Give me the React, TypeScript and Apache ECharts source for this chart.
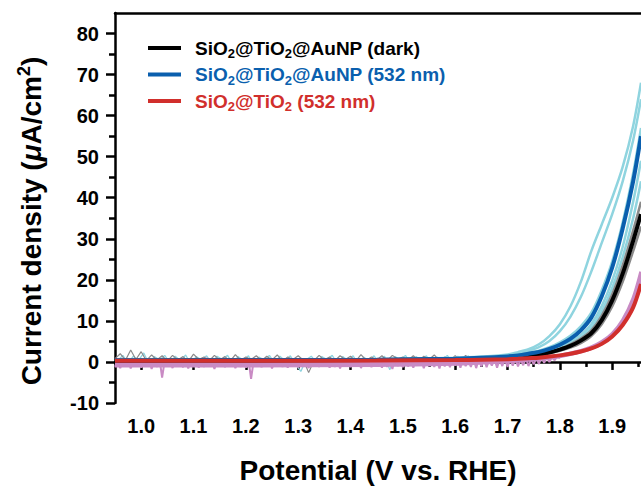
import React, { useEffect, useRef } from "react";
import * as echarts from "echarts";

const FONT = "'Liberation Sans', Arial, Helvetica, sans-serif";

// x grid of the smooth curves (V vs. RHE)
const xsRise = [0.95, 1.2, 1.45, 1.6, 1.65, 1.7, 1.72, 1.74, 1.76, 1.78, 1.8, 1.82, 1.84, 1.86, 1.88, 1.9, 1.92, 1.94, 1.955];

// mean curves (µA/cm²)
const darkMean = [0.3, 0.35, 0.45, 0.65, 0.8, 1.05, 1.25, 1.5, 1.8, 2.3, 3.0, 3.9, 5.2, 7.0, 10.2, 15.0, 21.5, 29.5, 36];
const lightMean = [0.4, 0.45, 0.55, 0.8, 1.0, 1.35, 1.6, 2.0, 2.45, 3.2, 4.2, 5.6, 7.7, 10.8, 16.0, 23.0, 32.5, 44.0, 55];
const noAuMean = [0.3, 0.3, 0.35, 0.45, 0.55, 0.65, 0.75, 0.9, 1.05, 1.3, 1.6, 2.0, 2.55, 3.3, 4.4, 6.2, 9.0, 13.3, 19];

// replicate curves
const cyanA = [0.5, 0.55, 0.65, 1.0, 1.3, 1.8, 2.4, 3.1, 4.3, 6.3, 9.2, 13.5, 19.5, 27, 33.5, 40, 47.5, 57.5, 68];
const cyanB = [0.5, 0.55, 0.6, 0.9, 1.15, 1.6, 2.0, 2.7, 3.6, 5.1, 7.5, 11, 15.8, 22, 29, 36, 44, 54, 64];
const cyanC = [0.45, 0.5, 0.6, 0.85, 1.05, 1.45, 1.75, 2.2, 2.75, 3.6, 4.8, 6.4, 8.7, 12.0, 17.5, 24.5, 34, 46, 57];
const cyanD = [0.4, 0.45, 0.55, 0.75, 0.95, 1.25, 1.45, 1.75, 2.2, 2.8, 3.7, 4.9, 6.6, 9.2, 13.6, 19.8, 28, 39, 49];
const cyanE = [0.4, 0.45, 0.5, 0.7, 0.9, 1.15, 1.35, 1.65, 2.0, 2.6, 3.4, 4.5, 6.0, 8.3, 12.3, 18, 25.5, 35, 44];
const grayA = [0.35, 0.4, 0.5, 0.7, 0.9, 1.1, 1.3, 1.6, 1.95, 2.5, 3.2, 4.3, 5.7, 7.7, 11.3, 16.5, 23.5, 32, 39];
const grayB = [0.3, 0.35, 0.4, 0.6, 0.8, 1.0, 1.15, 1.4, 1.65, 2.1, 2.7, 3.5, 4.6, 6.3, 9.2, 13.5, 19.5, 27, 33];
const pinkA = [-0.2, -0.2, -0.1, 0.1, 0.3, 0.5, 0.6, 0.75, 0.95, 1.2, 1.6, 2.1, 2.75, 3.6, 4.9, 6.9, 10.2, 15.5, 22];
const pinkB = [-0.9, -0.9, -0.8, -0.5, -0.2, 0.1, 0.25, 0.45, 0.7, 0.95, 1.35, 1.85, 2.5, 3.3, 4.5, 6.4, 9.5, 14.3, 20.5];

// noisy baseline readings (start, step, values)
const pinkNoiseStart = 0.95;
const pinkNoiseStep = 0.005;
const pinkNoise = [
  -1.2, 0.6, -1.5, 0.3, -0.9, 0.8, -1.6, 0.2, -1.1, 0.9,
  -1.4, 0.5, -1.0, 0.7, -1.7, 0.4, -1.2, 0.8, -3.8, 0.3,
  -1.1, 0.6, -1.5, 0.9, -0.8, 0.4, -1.3, 0.7, -1.6, 0.5,
  -1.0, 0.8, -1.4, 0.3, -1.2, 1.0, -0.9, 0.6, -1.7, 0.4,
  -1.1, 0.9, -1.3, 0.5, -1.0, 0.7, -1.5, 0.2, -1.2, 0.8,
  -1.4, 0.6, -4.1, 0.4, -1.1, 0.9, -1.3, 0.5, -0.9, 0.7,
  -1.6, 0.3, -1.0, 0.8, -1.2, 0.6, -1.4, 0.9, -0.8, 0.4,
  -1.3, 0.7, -1.1, 0.5, -1.5, 0.8, -0.9, 0.6, -1.2, 0.3,
  -1.0, 0.9, -1.4, 0.4, -1.2, 0.7, -1.6, 0.5, -0.9, 0.8,
  -1.3, 0.6, -1.1, 0.9, -1.5, 0.3, -1.0, 0.7, -1.3, 0.5,
  -0.9, 0.8, -1.4, 0.6, -1.2, 0.4, -1.7, 0.9, -1.0, 0.5,
  -1.3, 0.7, -1.1, 0.3, -1.4, 0.8, -0.9, 0.6, -1.5, 0.5,
  -1.0, 0.9, -1.2, 0.4, -1.6, 0.7, -1.1, 0.5, -1.3, 0.8,
  -0.9, 0.6, -1.4, 0.7, -1.0, 0.4, -1.2, 0.9, -1.5, 0.6,
  -1.1, 0.8, -1.3, 0.5, -0.9, 0.7, -1.4, 0.6, -1.0, 0.9,
  -1.2, 0.7, -0.9, 0.8, -1.1, 0.6, -0.8, 0.9, -1.0, 0.8,
  -0.6, 1.0, -0.5, 1.1, -0.2, 1.2, 0.0, 1.3, 0.4, 1.4,
  0.9,
];
const grayNoiseStart = 0.95;
const grayNoiseStep = 0.01;
const grayNoise = [
  0.8, 2.0, 0.4, 2.9, 0.6, 2.5, 0.3, 1.7, 0.5, 1.5,
  0.2, 1.6, 0.5, 1.3, 0.1, 1.9, 0.6, 1.2, 0.3, 1.6,
  0.5, 1.3, 0.2, 1.8, 0.4, 1.2, 0.6, 1.5, 0.3, 1.4,
  0.5, 1.7, 0.2, 1.2, 0.6, 1.5, 0.4, -2.6, 0.3, 1.6,
  0.5, 1.2, 0.3, 1.5, 0.6, 1.4, 0.2, 1.8, 0.4, 1.2,
  0.5, 1.5, 0.3, 1.6, 0.7, 1.2, 0.4, 1.5, 0.2, 1.4,
  0.6, 1.7, 0.3, 1.2, 0.5, 1.5, 0.4, 1.6, 0.3, 1.2,
  0.6, 1.5, 0.4, 1.3, 0.7, 1.3, 0.5, 1.4, 0.8, 1.3,
  0.9, 1.4, 1.1, 1.5,
];
const cyanNoiseStart = 0.955;
const cyanNoiseStep = 0.01;
const cyanNoise = [
  0.3, 1.6, -0.3, 1.4, 0.4, 2.2, -0.5, 1.3, 0.5, 1.6,
  -0.3, 1.4, 0.3, 1.7, -0.6, 1.3, 0.5, 1.5, -0.2, 1.4,
  0.6, 1.6, -0.4, 1.3, 0.4, 1.5, -0.7, 1.2, 0.5, 1.6,
  -0.3, 1.4, 0.3, 1.5, -0.5, -2.3, 0.5, 1.4, -0.2, 1.3,
  0.6, 1.6, -0.4, 1.3, 0.4, 1.5, -0.6, 1.2, 0.3, 1.5,
  -0.3, 1.4, -1.9, 1.3, 0.5, 1.6, -0.5, 1.3, 0.4, 1.5,
  -0.7, 1.2, 0.5, 1.6, -0.3, 1.4, 0.3, 1.5, -0.5, 1.3,
  0.6, 1.5, -0.4, 1.4, 0.7, 1.5, 0.2, 1.4, 0.8, 1.6,
];

const majorX = [1.0, 1.1, 1.2, 1.3, 1.4, 1.5, 1.6, 1.7, 1.8, 1.9];
const minorX = [0.95, 1.05, 1.15, 1.25, 1.35, 1.45, 1.55, 1.65, 1.75, 1.85, 1.95];
const majorY = [-10, 0, 10, 20, 30, 40, 50, 60, 70, 80];
const minorY = [-5, 5, 15, 25, 35, 45, 55, 65, 75];

const legendItems = [
  { parts: ["SiO", "2", "@TiO", "2", "@AuNP (dark)"], color: "#000000" },
  { parts: ["SiO", "2", "@TiO", "2", "@AuNP (532 nm)"], color: "#0a5fae" },
  { parts: ["SiO", "2", "@TiO", "2", " (532 nm)"], color: "#d12f2c" },
];

const COL = {
  black: "#000000",
  blue: "#0a5fae",
  red: "#d12f2c",
  cyan: "#8fd4df",
  gray: "#8a8a8a",
  pink: "#c98bc4",
};

function pairs(xs: number[], ys: number[]) {
  return ys.map((y, i) => [xs[i], y]);
}
function noisePairs(start: number, step: number, ys: number[]) {
  return ys.map((y, i) => [+(start + i * step).toFixed(4), y]);
}

export default function App() {
  const ref = useRef<HTMLDivElement>(null);
  useEffect(() => {
    document.body.style.margin = "0";
    if (!ref.current) return;
    const chart = echarts.init(ref.current, null, { renderer: "svg" });

    const smooth = (name: string, ys: number[], color: string, width: number, z: number) => ({
      type: "line",
      name,
      data: pairs(xsRise, ys),
      smooth: 0.3,
      showSymbol: false,
      symbol: "none",
      lineStyle: { color, width },
      z,
      clip: true,
    });
    const noise = (name: string, d: number[][], color: string, width: number, z: number) => ({
      type: "line",
      name,
      data: d,
      showSymbol: false,
      symbol: "none",
      lineStyle: { color, width },
      z,
      clip: true,
    });

    const legendGraphics: any[] = [];
    legendItems.forEach((it, i) => {
      const y = 48 + i * 26.5;
      legendGraphics.push({
        type: "line",
        shape: { x1: 148, y1: y, x2: 181, y2: y },
        style: { stroke: it.color, lineWidth: 4 },
        z: 100,
      });
      const rich = {
        a: { fontSize: 19, fontWeight: "bold", fontFamily: FONT, color: it.color, lineHeight: 24 },
        s: { fontSize: 13, fontWeight: "bold", fontFamily: FONT, color: it.color, lineHeight: 13, verticalAlign: "bottom" },
      };
      const text = it.parts
        .map((p, k) => (k % 2 === 1 ? `{s|${p}}` : `{a|${p}}`))
        .join("");
      legendGraphics.push({
        type: "text",
        x: 195,
        y,
        z: 100,
        style: {
          text,
          rich,
          fill: it.color,
          fontFamily: FONT,
          fontWeight: "bold",
          fontSize: 19,
          verticalAlign: "middle",
          align: "left",
        },
      });
    });

    const axisLine = { show: true, lineStyle: { color: "#000", width: 2.5 } };

    chart.setOption({
      animation: false,
      backgroundColor: "#ffffff",
      grid: { left: 115, right: 0, top: 13, bottom: 87, containLabel: false, outerBoundsMode: "none" },
      xAxis: [
        {
          type: "value",
          min: 0.95,
          max: 1.955,
          position: "bottom",
          axisLine,
          axisTick: { show: true, customValues: majorX, length: 8, lineStyle: { color: "#000", width: 2.5 } },
          axisLabel: {
            customValues: majorX,
            formatter: (v: number) => v.toFixed(1),
            color: "#000",
            fontSize: 20,
            fontWeight: "bold",
            fontFamily: FONT,
            margin: 13,
          },
          splitLine: { show: false },
          name: "Potential (V vs. RHE)",
          nameLocation: "middle",
          nameGap: 53,
          nameTextStyle: { color: "#000", fontSize: 28, fontWeight: "bold", fontFamily: FONT },
        },
        {
          type: "value",
          min: 0.95,
          max: 1.955,
          position: "bottom",
          axisLine: { show: false },
          axisTick: { show: true, customValues: minorX, length: 5, lineStyle: { color: "#000", width: 2.5 } },
          axisLabel: { show: false },
          splitLine: { show: false },
        },
        {
          type: "value",
          min: 0.95,
          max: 1.955,
          position: "top",
          axisLine,
          axisTick: { show: false },
          axisLabel: { show: false },
          splitLine: { show: false },
        },
      ],
      yAxis: [
        {
          type: "value",
          min: -10,
          max: 85,
          position: "left",
          axisLine,
          axisTick: { show: true, customValues: majorY, length: 9, lineStyle: { color: "#000", width: 2.5 } },
          axisLabel: {
            customValues: majorY,
            color: "#000",
            fontSize: 20,
            fontWeight: "bold",
            fontFamily: FONT,
            margin: 16,
          },
          splitLine: { show: false },
          name: "{a|Current density (}{i|μ}{a|A/cm}{sup|2}{a|)}",
          nameLocation: "middle",
          nameGap: 68,
          nameRotate: 90,
          nameTextStyle: {
            color: "#000",
            fontSize: 28,
            fontWeight: "bold",
            fontFamily: FONT,
            padding: [0, 26, 0, 0],
            rich: {
              a: { color: "#000", fontSize: 28, fontWeight: "bold", fontFamily: FONT, lineHeight: 32 },
              i: { color: "#000", fontSize: 28, fontWeight: "bold", fontStyle: "italic", fontFamily: FONT, lineHeight: 32 },
              sup: { color: "#000", fontSize: 18, fontWeight: "bold", fontFamily: FONT, verticalAlign: "top", lineHeight: 18 },
            },
          },
        },
        {
          type: "value",
          min: -10,
          max: 85,
          position: "left",
          axisLine: { show: false },
          axisTick: { show: true, customValues: minorY, length: 6, lineStyle: { color: "#000", width: 2.5 } },
          axisLabel: { show: false },
          splitLine: { show: false },
        },
      ],
      series: [
        noise("cyan-noise", noisePairs(cyanNoiseStart, cyanNoiseStep, cyanNoise), COL.cyan, 1.3, 1),
        noise("gray-noise", noisePairs(grayNoiseStart, grayNoiseStep, grayNoise), COL.gray, 1.2, 2),
        noise("pink-noise", noisePairs(pinkNoiseStart, pinkNoiseStep, pinkNoise), COL.pink, 2.0, 3),
        smooth("cyanA", cyanA, COL.cyan, 2.5, 4),
        smooth("cyanB", cyanB, COL.cyan, 2.5, 4),
        smooth("cyanC", cyanC, COL.cyan, 2.5, 4),
        smooth("cyanD", cyanD, COL.cyan, 2.5, 4),
        smooth("cyanE", cyanE, COL.cyan, 2.5, 4),
        smooth("grayA", grayA, COL.gray, 2.5, 5),
        smooth("grayB", grayB, COL.gray, 2.5, 5),
        smooth("pinkA", pinkA, COL.pink, 3.5, 5),
        smooth("pinkB", pinkB, COL.pink, 3.5, 5),
        smooth("SiO2@TiO2@AuNP (dark)", darkMean, COL.black, 4, 6),
        smooth("SiO2@TiO2@AuNP (532 nm)", lightMean, COL.blue, 4, 7),
        smooth("SiO2@TiO2 (532 nm)", noAuMean, COL.red, 4, 8),
      ],
      graphic: legendGraphics,
    });
    return () => chart.dispose();
  }, []);
  return <div ref={ref} style={{ width: 641, height: 490 }} />;
}
